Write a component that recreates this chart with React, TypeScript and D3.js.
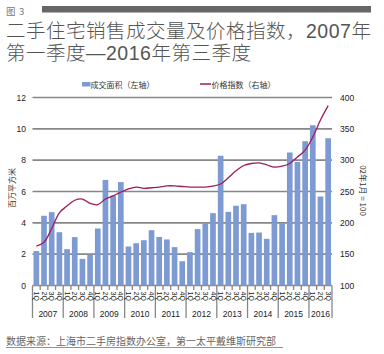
import React from "react";
import * as d3 from "d3";

const years = ["2007", "2008", "2009", "2010", "2011", "2012", "2013", "2014", "2015", "2016"];
const quarterLabels = ["1Q", "2Q", "3Q", "4Q"];
const areaValues = [
  2.2, 4.45, 4.68, 3.4, 2.32, 3.09, 1.7, 1.98, 3.64, 6.74,
  5.74, 6.6, 2.49, 2.7, 2.89, 3.53, 3.1, 2.94, 2.45, 1.55,
  2.13, 3.6, 3.98, 4.62, 8.28, 4.7, 5.09, 5.19, 3.36, 3.38,
  2.98, 4.49, 3.98, 8.49, 7.89, 9.21, 10.23, 5.68, 9.4,
];
const indexValues = [
  163, 169, 191, 216, 227, 236, 238, 231, 229, 238,
  243, 249, 254, 257, 255, 256, 257, 259, 259, 258,
  257, 257, 257, 258.5, 262, 272, 283, 291.5, 294.7, 295.7,
  292.6, 288.8, 290.4, 294.7, 305, 316, 337, 364, 387,
];
const leftTicks = [0, 2, 4, 6, 8, 10, 12];
const rightTicks = [100, 150, 200, 250, 300, 350, 400];

const periods = areaValues.map((_, i) => ({
  i,
  year: years[Math.floor(i / 4)],
  q: quarterLabels[i % 4],
}));

const CJK = "'Noto Sans CJK SC', 'Noto Sans', sans-serif";
const TITLE = "'Liberation Sans', 'Noto Sans CJK SC', sans-serif";
const NUM = "'Liberation Sans', Arial, sans-serif";

export default function App() {
  const L = 32.5, R = 332, T = 97.5, B = 285.5;
  const x = d3.scaleBand<number>().domain(periods.map((p) => p.i)).range([L, R]).paddingInner(0.26).paddingOuter(0.13);
  const step = x.step();
  const yL = d3.scaleLinear().domain([0, 12]).range([B, T]);
  const yR = d3.scaleLinear().domain([100, 400]).range([B, T]);
  const line = d3
    .line<number>()
    .x((_, i) => (x(i) as number) + x.bandwidth() / 2)
    .y((d) => yR(d))
    .curve(d3.curveCatmullRom.alpha(0.5));
  const boundary = (k: number) => L + k * step;

  return (
    <svg width={384} height={354} style={{ position: "absolute", left: 0, top: 0, background: "#fff" }}>
      {/* header */}
      <text x={6} y={15} fontFamily={CJK} fontSize={9.5} fill="#777">图</text>
      <text x={19} y={15} fontFamily={CJK} fontSize={9.5} fill="#777">3</text>
      <rect x={42} y={6} width={329} height={6.5} fill="#666" />
      <text x={6} y={38} fontFamily={TITLE} fontWeight={300} fontSize={19.5} letterSpacing={0.5} fill="#555">二手住宅销售成交量及价格指数，2007年</text>
      <text x={6} y={60} fontFamily={TITLE} fontWeight={300} fontSize={19.5} letterSpacing={0.5} fill="#555">第一季度—2016年第三季度</text>

      {/* legend */}
      <rect x={82} y={82} width={8.5} height={4.5} fill="#7d9bd2" />
      <text x={90.5} y={87.5} fontFamily={CJK} fontSize={8} fill="#333">成交面积（左轴）</text>
      <line x1={200} x2={211} y1={84} y2={84} stroke="#9e1c5a" strokeWidth={1.5} />
      <text x={211.5} y={87.5} fontFamily={CJK} fontSize={8} fill="#333">价格指数（右轴）</text>

      {/* gridlines */}
      {leftTicks.map((t) => (
        <line key={t} x1={L} x2={R} y1={yL(t)} y2={yL(t)} stroke="#878787" strokeWidth={1.6} />
      ))}

      {/* bars */}
      {areaValues.map((v, i) => (
        <rect key={i} x={x(i)} y={yL(v)} width={x.bandwidth()} height={B - yL(v)} fill="#7d9bd2" />
      ))}

      {/* line */}
      <path d={line(indexValues) || ""} fill="none" stroke="#9e1c5a" strokeWidth={1.3} />

      {/* left axis */}
      {leftTicks.map((t) => (
        <text key={t} x={26} y={yL(t) + 3} textAnchor="end" fontFamily={NUM} fontSize={8.5} fill="#222">{t}</text>
      ))}
      <text transform={`translate(14.5,188) rotate(-90)`} textAnchor="middle" fontFamily={CJK} fontSize={8} fill="#333">百万平方米</text>

      {/* right axis */}
      {rightTicks.map((t) => (
        <text key={t} x={340} y={yR(t) + 3} fontFamily={NUM} fontSize={8.5} fill="#222">{t}</text>
      ))}
      <text transform={`translate(360,190.5) rotate(90)`} textAnchor="middle" fontFamily={CJK} fontSize={8} fill="#333">02年1月 = 100</text>

      {/* x axis ticks */}
      {d3.range(0, areaValues.length + 1).map((k) => (
        <line key={k} x1={boundary(k)} x2={boundary(k)} y1={B} y2={k % 4 === 0 || k === areaValues.length ? 318 : 290} stroke="#878787" strokeWidth={1.3} />
      ))}

      {/* quarter labels */}
      {periods.map((p) => (
        <text key={p.i} transform={`translate(${(x(p.i) as number) + x.bandwidth() / 2 - 2.4},${291.5}) rotate(90)`} fontFamily={NUM} fontSize={7} fill="#222">{p.q}</text>
      ))}

      {/* year labels */}
      {years.map((yr, j) => {
        const start = boundary(j * 4);
        const end = boundary(Math.min((j + 1) * 4, areaValues.length));
        return (
          <text key={yr} x={(start + end) / 2} y={317} textAnchor="middle" fontFamily={NUM} fontSize={8.5} fill="#222">{yr}</text>
        );
      })}

      {/* source */}
      <text x={6} y={344.5} fontFamily={CJK} fontSize={10} fill="#666">数据来源：上海市二手房指数办公室，第一太平戴维斯研究部</text>
      <line x1={6} x2={283} y1={347.5} y2={347.5} stroke="#777" strokeWidth={0.8} />
    </svg>
  );
}
